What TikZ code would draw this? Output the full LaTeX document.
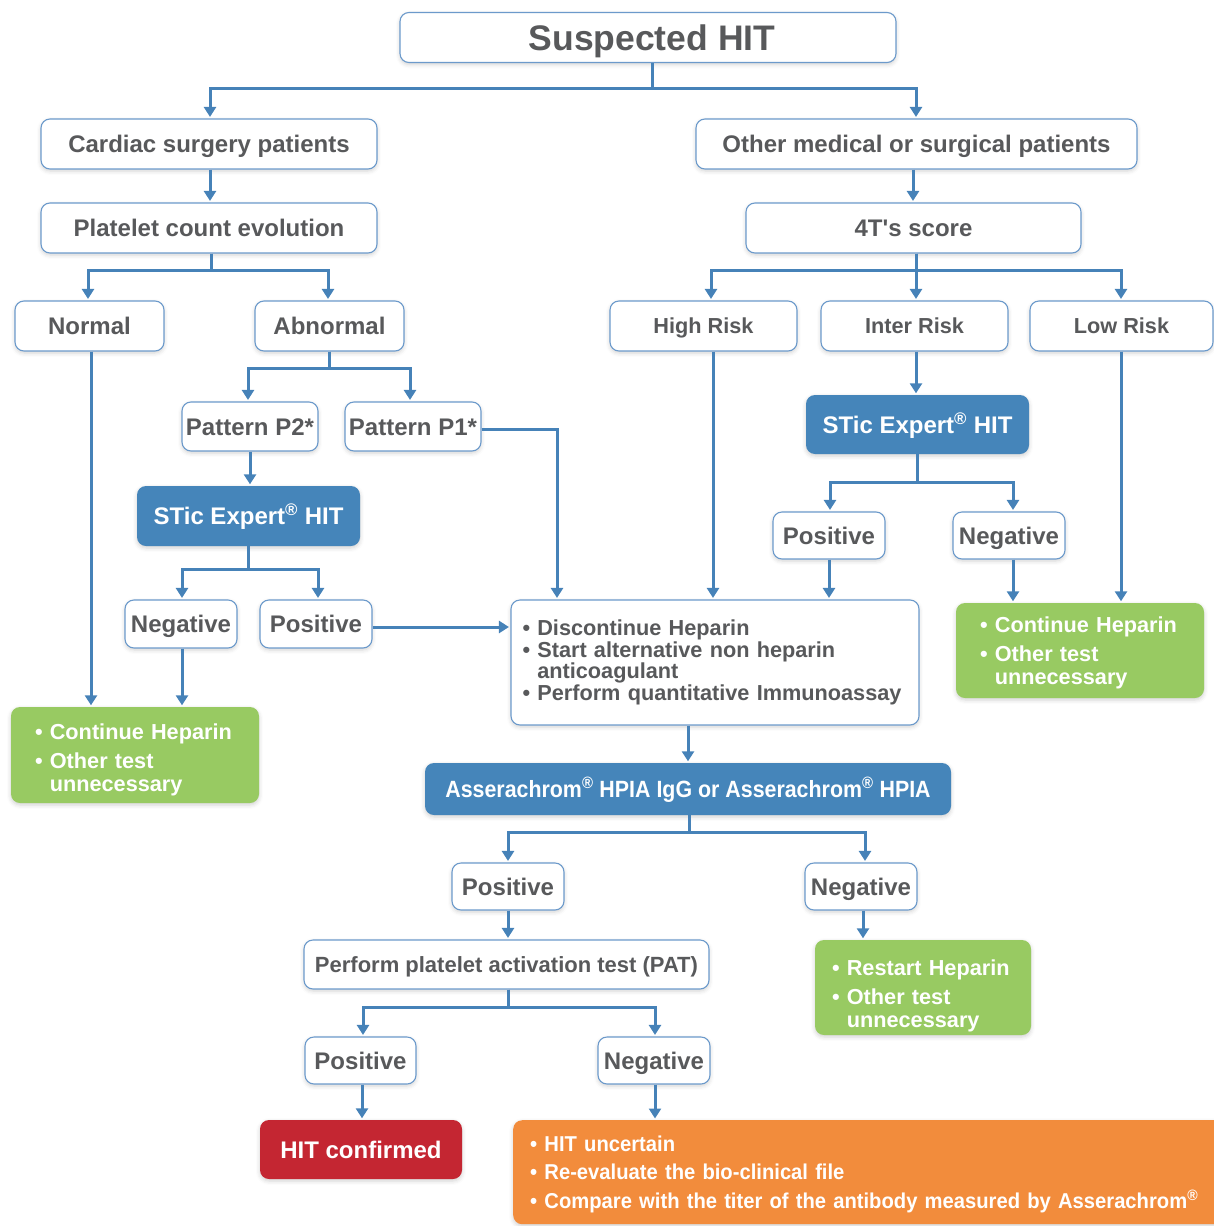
\documentclass[tikz,border=0pt]{standalone}
\usepackage{fontspec}
\setmainfont{Liberation Sans}
\newfontfamily\condfont{Liberation Sans}[FakeStretch=0.91]
\newfontfamily\ocondfont{Liberation Sans}[FakeStretch=0.94]
\usetikzlibrary{arrows.meta,shadows.blur}
\definecolor{txt}{HTML}{58595B}
\definecolor{bordercol}{HTML}{6C9ACB}
\definecolor{linecol}{HTML}{4682B8}
\definecolor{bluefill}{HTML}{4585BA}
\definecolor{greenfill}{HTML}{98CA62}
\definecolor{redfill}{HTML}{C42632}
\definecolor{orangefill}{HTML}{F28C3C}
\tikzset{
  base/.style={rounded corners=9pt, inner sep=0pt, align=center,
    font=\bfseries\fontsize{24}{27}\selectfont,
    blur shadow={shadow xshift=0pt, shadow yshift=-2pt, shadow blur radius=4pt, shadow opacity=18}},
  one/.style={text height=17.2pt, text depth=0pt},
  wbox/.style={base, one, draw=bordercol, line width=1.1pt, fill=white, text=txt},
  mbox/.style={base, draw=bordercol, line width=1.1pt, fill=white, text=txt},
  bbox/.style={base, one, fill=bluefill, text=white},
  gbox/.style={base, fill=greenfill, text=white, align=left,
    font=\bfseries\fontsize{21.7}{24}\selectfont},
  rbox/.style={base, one, fill=redfill, text=white},
  obox/.style={base, fill=orangefill, text=white, align=left,
    font=\ocondfont\bfseries\fontsize{21.5}{22}\selectfont},
  risk/.style={font=\bfseries\fontsize{21.7}{24}\selectfont, text height=15.5pt},
  conn/.style={draw=linecol, line width=3pt, -{Triangle[width=12pt,length=10pt]}, shorten >=1.5pt},
}
\newcommand{\reg}{\textsuperscript{\textregistered}}
\newcommand{\bul}{\textbullet\ }
\newcommand{\hang}{\hphantom{\textbullet\ }}
\begin{document}
\begin{tikzpicture}[x=1pt,y=-1pt]
\useasboundingbox (0,0) rectangle (1214,1226);
\clip (0,0) rectangle (1214,1226);
% nodes
\node[wbox, minimum width=496pt, minimum height=50pt, font=\bfseries\fontsize{35.5}{38}\selectfont, text height=25.4pt] (susp) at (648,37.5) {\hspace*{8pt}Suspected HIT};
\node[wbox, minimum width=336pt, minimum height=50pt] (cardiac) at (209,144) {Cardiac surgery patients};
\node[wbox, minimum width=441pt, minimum height=50pt] (other) at (916.5,144) {Other medical or surgical patients};
\node[wbox, minimum width=336pt, minimum height=50pt] (platelet) at (209,228) {Platelet count evolution};
\node[wbox, minimum width=335pt, minimum height=50pt] (fourT) at (913.5,228) {4T\textquotesingle s score};
\node[wbox, minimum width=149pt, minimum height=50pt] (normal) at (89.5,326) {Normal};
\node[wbox, minimum width=149pt, minimum height=50pt] (abnormal) at (329.5,326) {Abnormal};
\node[wbox, risk, minimum width=187pt, minimum height=50pt] (high) at (703.5,326) {High Risk};
\node[wbox, risk, minimum width=187pt, minimum height=50pt] (inter) at (914.5,326) {Inter Risk};
\node[wbox, risk, minimum width=183pt, minimum height=50pt] (low) at (1121.5,326) {Low Risk};
\node[wbox, minimum width=136pt, minimum height=49pt] (p2) at (250,426.5) {Pattern P2*};
\node[wbox, minimum width=136pt, minimum height=49pt] (p1) at (413,426.5) {Pattern P1*};
\node[bbox, minimum width=223pt, minimum height=60pt] (sticL) at (248.5,516) {STic Expert\reg{} HIT};
\node[wbox, minimum width=112pt, minimum height=48pt] (negL) at (181,624) {Negative};
\node[wbox, minimum width=112pt, minimum height=48pt] (posL) at (316,624) {Positive};
\node[gbox, minimum width=248pt, minimum height=96pt, text width=200pt] (greenL) at (135,755)
  {\rule{0pt}{26pt}\bul Continue Heparin\\[5pt]\bul Other test\\[-1pt]\hang unnecessary};
\node[bbox, minimum width=223pt, minimum height=59pt] (sticR) at (917.5,424.5) {STic Expert\reg{} HIT};
\node[wbox, minimum width=112pt, minimum height=47pt] (posR) at (829,535.5) {Positive};
\node[wbox, minimum width=112pt, minimum height=47pt] (negR) at (1009,535.5) {Negative};
\node[gbox, minimum width=248pt, minimum height=95pt, text width=200pt] (greenR) at (1080,650.5)
  {\rule{0pt}{21pt}\bul Continue Heparin\\[5pt]\bul Other test\\[-1pt]\hang unnecessary};
\node[mbox, minimum width=408pt, minimum height=125pt, text width=385pt, align=left,
  font=\bfseries\fontsize{21.7}{21.7}\selectfont] (central) at (715,662.5)
  {\bul Discontinue Heparin\\\bul Start alternative non heparin\\\hang anticoagulant\\\bul Perform quantitative Immunoassay};
\node[bbox, minimum width=526pt, minimum height=52pt, font=\condfont\bfseries\fontsize{23.5}{26}\selectfont, text height=16.8pt] (asser) at (688,789)
  {Asserachrom\reg{} HPIA IgG or Asserachrom\reg{} HPIA};
\node[wbox, minimum width=112pt, minimum height=47pt] (posA) at (508,886.5) {Positive};
\node[wbox, minimum width=112pt, minimum height=47pt] (negA) at (861,886.5) {Negative};
\node[wbox, minimum width=405pt, minimum height=49pt, font=\bfseries\fontsize{22}{24}\selectfont, text height=15.8pt] (pat) at (506.5,964.5) {Perform platelet activation test (PAT)};
\node[gbox, minimum width=216pt, minimum height=95pt, text width=182pt] (greenB) at (923,987.5)
  {\rule{0pt}{32pt}\bul Restart Heparin\\[5pt]\bul Other test\\[-1pt]\hang unnecessary};
\node[wbox, minimum width=111pt, minimum height=47pt] (posP) at (360.5,1060.5) {Positive};
\node[wbox, minimum width=112pt, minimum height=47pt] (negP) at (654,1060.5) {Negative};
\node[rbox, minimum width=202pt, minimum height=59pt] (hit) at (361,1149.5) {HIT confirmed};
\node[obox, anchor=north west, minimum width=716pt, minimum height=104pt, text width=682pt] (orange) at (513,1120)
  {\rule{0pt}{20pt}\bul HIT uncertain\\[6.5pt]\bul Re-evaluate the bio-clinical file\\[6.5pt]\bul Compare with the titer of the antibody measured by Asserachrom\reg};
% connectors
\draw[conn] ([xshift=4pt]susp.south) -- ++(0,25) -| ([xshift=1pt]cardiac.north);
\draw[conn] ([xshift=4pt]susp.south) -- ++(0,25) -| ([xshift=-0.5pt]other.north);
\draw[conn] ([xshift=1pt]cardiac.south) -- ([xshift=1pt]platelet.north);
\draw[conn] ([xshift=-0.5pt]fourT.north |- other.south) -- ([xshift=-0.5pt]fourT.north);
\draw[conn] ([xshift=2pt]platelet.south) -- ++(0,17) -| ([xshift=-1.5pt]normal.north);
\draw[conn] ([xshift=2pt]platelet.south) -- ++(0,17) -| ([xshift=-1.5pt]abnormal.north);
\draw[conn] ([xshift=2.5pt]fourT.south) -- ++(0,17) -| ([xshift=7.5pt]high.north);
\draw[conn] ([xshift=2.5pt]fourT.south) -- ++(0,17) -| ([xshift=1.5pt]inter.north);
\draw[conn] ([xshift=2.5pt]fourT.south) -- ++(0,17) -| ([xshift=-0.5pt]low.north);
\draw[conn] (abnormal.south) -- ++(0,17) -| ([xshift=-2pt]p2.north);
\draw[conn] (abnormal.south) -- ++(0,17) -| ([xshift=-3pt]p1.north);
\draw[conn] ([yshift=-2.5pt]p1.east) -| ([xshift=-158pt]central.north);
\draw[conn] (p2.south) -- (p2.south |- sticL.north);
\draw[conn] (sticL.south) -- ++(0,23) -| ([xshift=1pt]negL.north);
\draw[conn] (sticL.south) -- ++(0,23) -| ([xshift=2pt]posL.north);
\draw[conn] ([yshift=-3pt]posL.east) -- ([yshift=-3pt]posL.east -| central.west);
\draw[conn] ([xshift=1pt]negL.south) -- ([xshift=1pt]negL.south |- greenL.north);
\draw[conn] ([xshift=1.5pt]normal.south) -- ([xshift=1.5pt]normal.south |- greenL.north);
\draw[conn] ([xshift=9.5pt]high.south) -- ([xshift=9.5pt]high.south |- central.north);
\draw[conn] ([xshift=1.5pt]inter.south) -- ([xshift=1.5pt]inter.south |- sticR.north);
\draw[conn] (sticR.south) -- ++(0,28) -| ([xshift=1pt]posR.north);
\draw[conn] (sticR.south) -- ++(0,28) -| ([xshift=4pt]negR.north);
\draw[conn] (posR.south) -- (posR.south |- central.north);
\draw[conn] ([xshift=4pt]negR.south) -- ([xshift=4pt]negR.south |- greenR.north);
\draw[conn] ([xshift=-0.5pt]low.south) -- ([xshift=-0.5pt]low.south |- greenR.north);
\draw[conn] (asser.north |- central.south) -- (asser.north);
\draw[conn] ([xshift=1pt]asser.south) -- ++(0,17) -| (posA.north);
\draw[conn] ([xshift=1pt]asser.south) -- ++(0,17) -| ([xshift=4pt]negA.north);
\draw[conn] (posA.south) -- (posA.south |- pat.north);
\draw[conn] ([xshift=2pt]negA.south) -- ([xshift=2pt]negA.south |- greenB.north);
\draw[conn] ([xshift=1.5pt]pat.south) -- ++(0,18) -| ([xshift=2.5pt]posP.north);
\draw[conn] ([xshift=1.5pt]pat.south) -- ++(0,18) -| ([xshift=1pt]negP.north);
\draw[conn] ([xshift=1.5pt]posP.south) -- ([xshift=1.5pt]posP.south |- hit.north);
\draw[conn] ([xshift=1pt]negP.south) -- ([xshift=1pt]negP.south |- orange.north);
\end{tikzpicture}
\end{document}
